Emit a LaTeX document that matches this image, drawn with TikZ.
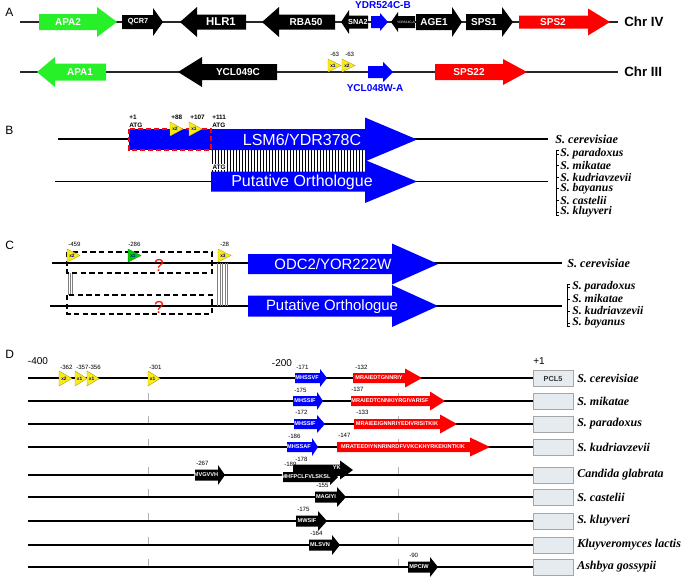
\documentclass[tikz,border=0pt]{standalone}
\usepackage{fontspec}
\setmainfont{Liberation Sans}
\newfontfamily\tms{Liberation Serif}
\definecolor{gGreen}{RGB}{40,240,40}
\definecolor{gBlue}{RGB}{0,0,255}
\definecolor{gRed}{RGB}{255,0,0}
\definecolor{gYel}{RGB}{250,235,20}
\definecolor{boxfill}{RGB}{230,235,240}
\newcommand\gArrow[7]{\fill[#7] (#1,{#4-#5}) -- (#2,{#4-#5}) -- (#2,{#4-#6}) -- (#3,#4) -- (#2,{#4+#6}) -- (#2,{#4+#5}) -- (#1,{#4+#5}) -- cycle;}
\newcommand\triMark[6]{\filldraw[fill=#5, draw=#5!70!black, line width=0.3pt] (#1,#2) -- ({#1+#3},{#2+#4/2}) -- (#1,{#2+#4}) -- cycle;
  \node[trilab] at ({#1+#3*0.38},{#2+#4/2}) {#6};}
\begin{document}
\begin{tikzpicture}[x=0.75pt,y=-0.75pt,
  trilab/.style={inner sep=0pt, text=blue!60!black, font=\bfseries\fontsize{3.6}{4}\selectfont},
  glab/.style={inner sep=0pt, text=white, font=\bfseries\fontsize{7.5}{8}\selectfont},
  glabs/.style={inner sep=0pt, text=white, font=\bfseries\fontsize{5.5}{6}\selectfont},
  dlab/.style={inner sep=0pt, text=white, font=\bfseries\fontsize{4.2}{5}\selectfont},
  numl/.style={anchor=base west, inner sep=0pt, font=\fontsize{4.6}{5}\selectfont},
  numb/.style={anchor=base west, inner sep=0pt, font=\bfseries\fontsize{4.8}{5}\selectfont},
  panel/.style={anchor=west, inner sep=0pt, font=\fontsize{9}{10}\selectfont},
  chrlab/.style={anchor=west, inner sep=0pt, font=\bfseries\fontsize{10}{12}\selectfont},
  sp/.style={anchor=west, inner sep=0pt, font=\tms\bfseries\itshape\fontsize{9.2}{10}\selectfont},
  spl/.style={anchor=west, inner sep=0pt, font=\tms\bfseries\itshape\fontsize{8.8}{9}\selectfont},
  bigl/.style={inner sep=0pt, text=white, font=\fontsize{12}{14}\selectfont},
  chrline/.style={line width=0.9pt, black!85},
  seqline/.style={line width=0.9pt, black},
  tick/.style={line width=0.5pt, black!30},
  qmark/.style={inner sep=0pt, text=red!90!orange, font=\fontsize{13}{14}\selectfont}
]
\useasboundingbox (0,0) rectangle (685,578);
\fill[white] (0,0) rectangle (685,578);

%================ Panel A
\node[panel] (pA) at (5,12) {A};
\draw[chrline] (20,22) -- (618,22);
\gArrow{39}{97}{117}{22}{8}{15}{gGreen}
\node[glab] (apa2) at (68,22) {APA2};
\gArrow{122}{153}{163}{22}{7}{14}{black}
\node[glabs] (qcr7) at (138,22) {QCR7};
\gArrow{246}{197}{180}{22}{7.5}{15}{black}
\node[glab, font=\bfseries\fontsize{8.5}{9}\selectfont] (hlr1) at (221,22) {HLR1};
\gArrow{335}{279}{262}{22}{7.5}{15}{black}
\node[glab] (rba50) at (306,22) {RBA50};
\gArrow{368}{349}{341}{22}{6.5}{12}{black}
\node[glabs] (sna2) at (358,22) {SNA2};
\gArrow{371}{380}{388}{22}{6}{9}{gBlue}
\gArrow{415}{398}{391}{22}{6}{10}{black}
\node[inner sep=0pt, text=white, font=\fontsize{2.4}{3}\selectfont] (ydra) at (406,22) {YDR524C-A};
\gArrow{416}{452}{462}{22}{8}{15}{black}
\node[glab] (age1) at (434,22) {AGE1};
\gArrow{466}{502}{513}{22}{8}{15}{black}
\node[glab] (sps1) at (484,22) {SPS1};
\gArrow{519}{588}{610}{22}{6.5}{13.5}{gRed}
\node[glab] (sps2) at (553,22) {SPS2};
\node[chrlab] (chr4) at (624,22) {Chr IV};
\node[inner sep=0pt, text=gBlue, font=\bfseries\fontsize{7.5}{8}\selectfont] (ydrb) at (383,5) {YDR524C-B};

\draw[chrline] (20,72) -- (618,72);
\gArrow{106}{55}{37}{72}{8.5}{15}{gGreen}
\node[glab] (apa1) at (80,72) {APA1};
\gArrow{277}{202}{178}{72}{8}{15}{black}
\node[glab] (ycl049) at (238,72) {YCL049C};
\triMark{328}{59}{13}{13}{gYel}{x1}
\triMark{342}{59}{13}{13}{gYel}{x2}
\node[numl] (a63a) at (330,56) {-63};
\node[numl] (a63b) at (345,56) {-63};
\gArrow{368}{383}{393}{72}{6}{10}{gBlue}
\node[inner sep=0pt, text=gBlue, font=\bfseries\fontsize{7.5}{8}\selectfont] (yclw) at (375,88) {YCL048W-A};
\gArrow{435}{503}{527}{72}{8}{13}{gRed}
\node[glab] (sps22) at (469,72) {SPS22};
\node[chrlab] (chr3) at (624,72) {Chr III};

%================ Panel B
\node[panel] (pB) at (5,130) {B};
\draw[seqline] (58,139) -- (548,139);
\draw[seqline] (55,181.5) -- (548,181.5);
\foreach \x in {212,215,...,364} \draw[line width=0.35pt] (\x,150) -- (\x,172);
\gArrow{211}{365}{417}{139.5}{10.5}{22}{gBlue}
\gArrow{211}{365}{417}{181.5}{10}{21.5}{gBlue}
\fill[gBlue] (129,129) rectangle (211,150);
\draw[red, dashed, line width=1pt, dash pattern=on 4pt off 2pt] (129,129) rectangle (211,150);
\node[bigl] (lsm6) at (302,139.5) {LSM6/YDR378C};
\node[bigl] (putB) at (302,182) {Putative Orthologue};
\triMark{170}{122}{13}{14}{gYel}{x2}
\triMark{189}{122}{13}{14}{gYel}{x1}
\node[numb] (b1) at (129,119) {+1};
\node[numb] (b1a) at (129,127) {ATG};
\node[numb] (b88) at (171,119) {+88};
\node[numb] (b107) at (190,119) {+107};
\node[numb] (b111) at (212,119) {+111};
\node[numb] (b111a) at (212,127) {ATG};
\node[numb, fill=white, inner sep=0.6pt] (batg) at (211.5,169.5) {ATG};
\node[sp] (bsc) at (555,139) {S. cerevisiae};
\draw[line width=0.5pt] (559,150) -- (556,150) -- (556,215) -- (559,215);
\foreach \yy/\nm in {154/S. paradoxus,165.6/S. mikatae,177.2/S. kudriavzevii,188.8/S. bayanus,200.4/S. castelii,212/S. kluyveri}{
  \draw[line width=0.5pt] (556,\yy) -- (558.5,\yy);
  \node[spl] at (560,\yy) {\nm};
}

%================ Panel C
\node[panel] (pC) at (5,245) {C};
\draw[seqline] (52,263) -- (562,263);
\draw[seqline] (50,306) -- (562,306);
\foreach \x in {68,70.3,72.6} \draw[line width=0.5pt, black!50] (\x,273) -- (\x,295);
\foreach \x in {217.3,220,222.5,225.2,227.8} \draw[line width=0.5pt, black!50] (\x,263) -- (\x,306);
\draw[dashed, line width=1.1pt, dash pattern=on 4pt off 2.5pt] (67,252) rectangle (212,273);
\draw[dashed, line width=1.1pt, dash pattern=on 4pt off 2.5pt] (67,295) rectangle (212,314);
\triMark{67}{249}{13}{13}{gYel}{x2}
\triMark{128}{249}{13}{13}{green!80!black}{x1}
\triMark{218}{249}{13}{13}{gYel}{x3}
\node[numl] (c459) at (68,246) {-459};
\node[numl] (c286) at (128,246) {-286};
\node[numl] (c28) at (220,246) {-28};
\node[qmark] (q1) at (159,265) {?};
\node[qmark] (q2) at (159,307) {?};
\gArrow{248}{392}{438}{264}{10}{20.5}{gBlue}
\gArrow{248}{392}{438}{306}{10.5}{21}{gBlue}
\node[bigl, font=\fontsize{11.2}{13}\selectfont] (odc2) at (333,264) {ODC2/YOR222W};
\node[bigl, font=\fontsize{11.2}{13}\selectfont] (putC) at (332,306.5) {Putative Orthologue};
\node[sp] (csc) at (567,263) {S. cerevisiae};
\draw[line width=0.5pt] (570,284) -- (567.5,284) -- (567.5,326) -- (570,326);
\foreach \yy/\nm in {287/S. paradoxus,299/S. mikatae,311/S. kudriavzevii,323/S. bayanus}{
  \draw[line width=0.5pt] (567.5,\yy) -- (569.5,\yy);
  \node[spl] at (572,\yy) {\nm};
}

%================ Panel D
\node[panel] (pD) at (5,354) {D};
\node[inner sep=0pt, font=\fontsize{7.5}{8}\selectfont] (m400) at (38,361) {-400};
\node[inner sep=0pt, font=\fontsize{7.5}{8}\selectfont] (m200) at (282,363) {-200};
\node[inner sep=0pt, font=\fontsize{7.5}{8}\selectfont] (p1) at (539,361) {+1};
\foreach \yy/\nm [count=\i] in {378/S. cerevisiae,401/S. mikatae,424/S. paradoxus,447/S. kudriavzevii,475/Candida glabrata,497/S. castelii,521/S. kluyveri,545/Kluyveromyces lactis,567/Ashbya gossypii}{
  \draw[seqline] (28,\yy) -- (533,\yy);
  \ifnum\i>1
    \draw[tick] (148,\yy-8) -- (148,\yy-1);
    \draw[tick] (398,\yy-8) -- (398,\yy-1);
  \fi
  \filldraw[fill=boxfill, draw=black!35, line width=0.5pt] (533,\yy-8) rectangle (573,\yy+8);
  \node[sp, font=\tms\bfseries\itshape\fontsize{9}{10}\selectfont] at (577,\yy) {\nm};
}
\node[inner sep=0pt, text=black!80, font=\bfseries\fontsize{5.5}{6}\selectfont] (pcl5) at (553,379) {PCL5};
% row 1
\triMark{59}{371}{13}{15}{gYel}{x2}
\triMark{75}{371}{12}{15}{gYel}{x1}
\triMark{87}{371}{12}{15}{gYel}{x1}
\triMark{148}{371}{12}{15}{gYel}{x1}
\node[numl] (d362) at (60,369) {-362};
\node[numl] (d357) at (76,369) {-357-356};
\node[numl] (d301) at (149,369) {-301};
\gArrow{295}{320}{327}{378}{5}{9}{gBlue}
\node[dlab] (s1a) at (307,378) {MHSSVF};
\node[numl] (n171) at (296,369) {-171};
\gArrow{353}{405}{422}{378}{5}{9.5}{gRed}
\node[dlab] (s1b) at (379,378) {MRAIEDTGNNRIY};
\node[numl] (n132) at (355,369) {-132};
% row 2
\gArrow{293}{317}{323}{401}{5}{9}{gBlue}
\node[dlab] (s2a) at (305,401) {MHSSIF};
\node[numl] (n175) at (294,392) {-175};
\gArrow{351}{430}{445}{401}{5}{9.5}{gRed}
\node[dlab] (s2b) at (390,401) {MRAIEDTCNNKIYRGIVARISF};
\node[numl] (n137) at (351,391) {-137};
% row 3
\gArrow{294}{317}{325}{424}{5}{9}{gBlue}
\node[dlab] (s3a) at (305,424) {MHSSIF};
\node[numl] (n172) at (295,414) {-172};
\gArrow{354}{440}{457}{424}{5}{9.5}{gRed}
\node[dlab] (s3b) at (397,424) {MRAIEEIGNNRIYEDIVRISITKIK};
\node[numl] (n133) at (356,414) {-133};
% row 4
\gArrow{287}{312}{318}{447}{5}{9}{gBlue}
\node[dlab] (s4a) at (299,447) {MHSSAF};
\node[numl] (n186) at (288,438) {-186};
\gArrow{337}{470}{490}{447}{5}{9.5}{gRed}
\node[dlab] (s4b) at (403,447) {MRATEEDIYNNRINRDFVVKCKHYRKEKINTKIK};
\node[numl] (n147) at (338,437) {-147};
% row 5
\gArrow{195}{218}{225}{475}{5.5}{10}{black}
\node[dlab] (s5a) at (206,475) {MVGVVH};
\node[numl] (n267) at (196,465) {-267};
\gArrow{293}{340}{353}{470}{5.5}{9.5}{black}
\node[dlab, anchor=east] (s5b) at (341,468) {YK};
\gArrow{283}{330}{338}{477}{5}{8}{black}
\node[dlab] (s5c) at (306,477) {MHFPCLFVLSKSL};
\node[numl] (n178) at (295,461) {-178};
\node[numl] (n189) at (284,466) {-189};
% row 6
\gArrow{315}{337}{346}{497}{5.5}{10}{black}
\node[dlab] (s6) at (326,497) {MAGIYI};
\node[numl] (n155) at (316,487) {-155};
% row 7
\gArrow{296}{318}{327}{521}{5.5}{10}{black}
\node[dlab] (s7) at (307,521) {MWSIF};
\node[numl] (n175b) at (297,511) {-175};
% row 8
\gArrow{309}{332}{340}{545}{5.5}{10}{black}
\node[dlab] (s8) at (320,545) {MLSVN};
\node[numl] (n164) at (310,535) {-164};
% row 9
\gArrow{408}{430}{438}{567}{5.5}{10}{black}
\node[dlab] (s9) at (419,567) {MPCIW};
\node[numl] (n90) at (409,557) {-90};
\end{tikzpicture}
\end{document}
